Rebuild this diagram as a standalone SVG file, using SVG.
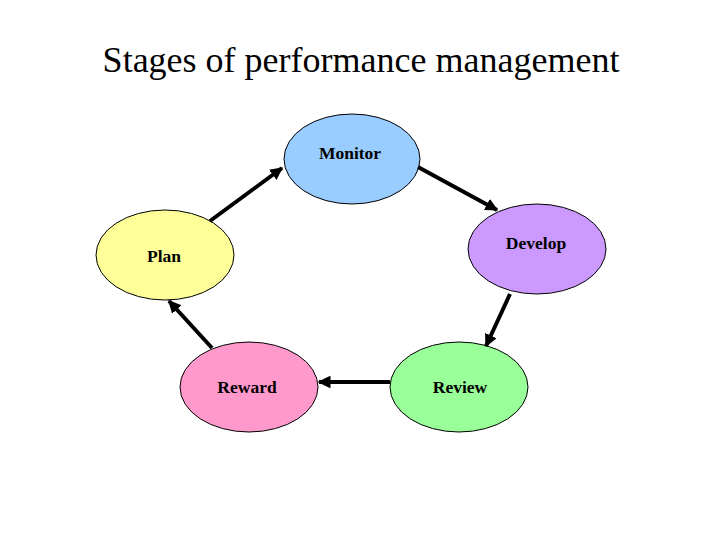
<svg xmlns="http://www.w3.org/2000/svg" width="720" height="540" viewBox="0 0 720 540">
<style>
.node ellipse{stroke:#000;stroke-width:1}
.lbl{font-family:"Liberation Serif","Times New Roman",serif;font-weight:bold;font-size:17.5px;text-anchor:middle;fill:#000}
.title{font-family:"Liberation Serif","Times New Roman",serif;font-size:36px;text-anchor:middle;fill:#000}
.conn line{stroke:#000;stroke-width:4;marker-end:url(#ah)}
</style>
<defs>
<marker id="ah" viewBox="0 0 10 10" refX="9" refY="5" markerWidth="3.2" markerHeight="3.2" orient="auto" markerUnits="strokeWidth">
<path d="M0,0 L10,5 L0,10 z" fill="#000"/>
</marker>
</defs>
<rect width="720" height="540" fill="#fff"/>
<text class="title" x="361" y="72">Stages of performance management</text>
<g id="monitor" class="node"><ellipse cx="352" cy="159" rx="68" ry="45" fill="#99ccff"/><text class="lbl" x="350" y="159">Monitor</text></g>
<g id="plan" class="node"><ellipse cx="165" cy="255" rx="69" ry="45" fill="#ffff99"/><text class="lbl" x="164" y="262">Plan</text></g>
<g id="develop" class="node"><ellipse cx="537" cy="249" rx="69" ry="45" fill="#cc99ff"/><text class="lbl" x="536" y="249">Develop</text></g>
<g id="reward" class="node"><ellipse cx="249" cy="387" rx="69" ry="45" fill="#ff99cc"/><text class="lbl" x="247" y="393">Reward</text></g>
<g id="review" class="node"><ellipse cx="459" cy="387" rx="69" ry="45" fill="#99ff99"/><text class="lbl" x="460" y="393">Review</text></g>
<g id="connectors" class="conn">
<line x1="210" y1="221" x2="282" y2="168"/>
<line x1="418" y1="167" x2="497" y2="210"/>
<line x1="510" y1="294" x2="486" y2="346"/>
<line x1="390" y1="382" x2="319" y2="382"/>
<line x1="212" y1="348" x2="169" y2="301"/>
</g>
</svg>
